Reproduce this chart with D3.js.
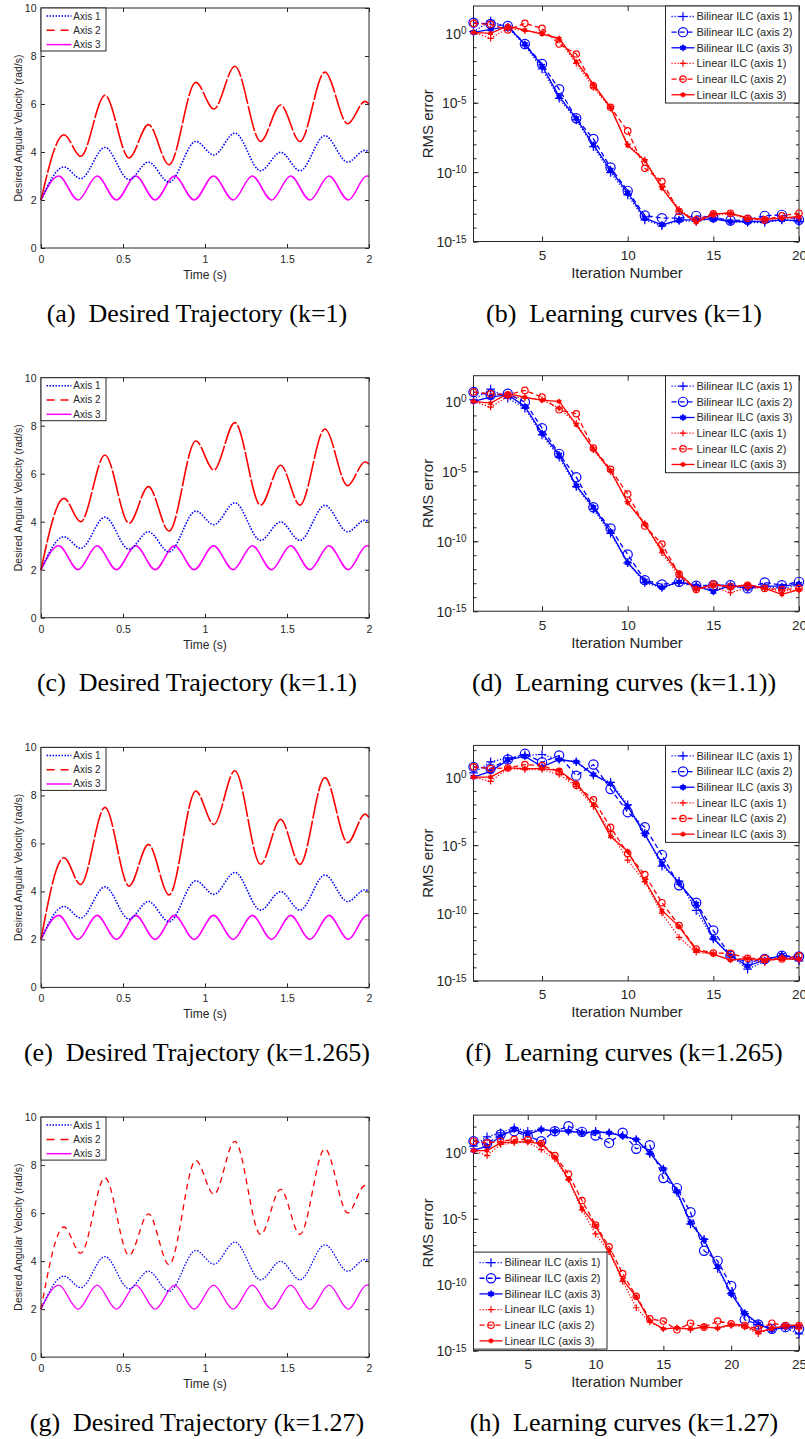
<!DOCTYPE html>
<html>
<head>
<meta charset="utf-8">
<script src="https://cdn.jsdelivr.net/npm/d3@7"></script>
<style>
  body { margin: 0; background: #fff; }
  svg { display: block; }
</style>
</head>
<body>
<script>
// ---------- trajectory data (extrema) ----------
// time of the turning points of axis 1 / axis 2
const extremaTime = [0, 0.14, 0.242, 0.39, 0.537, 0.655, 0.781, 0.944, 1.054, 1.182, 1.339, 1.461, 1.579, 1.731, 1.87, 1.976, 2.0]
const axis1Vel = [2, 3.375, 2.89, 4.19, 2.85, 3.58, 2.74, 4.44, 3.875, 4.79, 3.22, 3.99, 3.22, 4.68, 3.58, 4.07, 4.0]
const axis2VelK1 = [2, 4.72, 3.82, 6.36, 3.75, 5.14, 3.47, 6.9, 5.79, 7.57, 4.44, 5.96, 4.44, 7.33, 5.18, 6.11, 6.0]
const axis2VelK11 = [2, 4.97, 4.0, 6.78, 3.93, 5.46, 3.61, 7.36, 6.15, 8.13, 4.69, 6.35, 4.69, 7.86, 5.5, 6.5, 6.4]
const axis2VelK1265 = [2, 5.4, 4.29, 7.5, 4.22, 5.96, 3.85, 8.18, 6.79, 9.03, 5.13, 7.0, 5.13, 8.74, 6.03, 7.22, 7.08]
const axis2VelK127 = [2, 5.42, 4.33, 7.47, 4.24, 5.97, 3.85, 8.19, 6.78, 8.99, 5.11, 6.99, 5.11, 8.68, 6.01, 7.15, 7.06]
// axis 3 turning points
const axis3Time = [0, 0.108, 0.226, 0.342, 0.46, 0.578, 0.696, 0.814, 0.934, 1.052, 1.172, 1.288, 1.406, 1.522, 1.64, 1.756, 1.874, 1.986, 2.0]
const axis3Vel = [2, 3, 2, 3, 2, 3, 2, 3, 2, 3, 2, 3, 2, 3, 2, 3, 2, 3, 2.99]

const timeTicks = [0, 0.5, 1, 1.5, 2]
const velTicks = [0, 2, 4, 6, 8, 10]
const trajLegend = ['Axis 1', 'Axis 2', 'Axis 3']

// ---------- learning curves: log10(RMS error) per iteration ----------
const bil1K1 = [0.12, 0.89, 0.43, -0.84, -2.57, -4.68, -6.24, -8.16, -10.03, -11.64, -13.44, -13.87, -13.49, -13.56, -13.32, -13.56, -13.63, -13.63, -13.44, -13.56]
const bil2K1 = [0.77, 0.67, 0.53, -0.77, -2.21, -4.03, -6.12, -7.61, -9.67, -11.35, -13.13, -13.32, -13.32, -13.15, -13.25, -13.49, -13.44, -13.15, -13.08, -13.44]
const bil3K1 = [0.07, 0.29, 0.48, -0.79, -2.35, -4.56, -6.12, -8.04, -9.84, -11.47, -13.32, -13.8, -13.44, -13.44, -13.37, -13.56, -13.56, -13.56, -13.44, -13.49]
const lin1K1 = [0.07, -0.36, 0.36, 0.19, 0.05, -0.48, -2.16, -3.89, -5.4, -7.99, -9.12, -11.04, -12.67, -13.56, -13.08, -13.03, -13.37, -13.49, -13.32, -13.32]
const lin2K1 = [0.72, 0.65, 0.24, 0.72, 0.36, -0.77, -1.49, -3.79, -5.33, -7.03, -9.72, -10.68, -12.84, -13.44, -13.01, -12.96, -13.32, -13.44, -13.15, -12.96]
const lin3K1 = [0.07, 0, 0.53, 0.24, -0.05, -0.36, -2.04, -3.67, -5.33, -8.09, -9.17, -11.16, -12.77, -13.63, -13.01, -12.96, -13.32, -13.39, -13.32, -13.2]

const bil1K11 = [0.12, 0.88, 0.24, -0.48, -2.39, -3.99, -6.09, -7.71, -9.43, -11.54, -12.97, -13.3, -12.97, -13.21, -13.45, -13.21, -13.37, -13.26, -13.37, -13.14]
const bil2K11 = [0.67, 0.48, 0.55, -0.05, -1.91, -3.75, -5.42, -7.57, -9.08, -10.94, -12.78, -13.09, -12.9, -13.18, -13.14, -13.14, -13.37, -12.94, -13.14, -12.9]
const bil3K11 = [0, 0.31, 0.48, -0.36, -2.27, -3.82, -6.02, -7.57, -9.31, -11.54, -12.83, -13.3, -12.9, -13.18, -13.61, -13.14, -13.37, -13.21, -13.21, -13.06]
const lin1K11 = [0, -0.41, 0.36, 0.24, 0.12, -0.48, -1.55, -3.46, -5.02, -7.17, -8.72, -10.82, -12.54, -13.45, -13.26, -13.68, -13.3, -13.37, -13.54, -13.49]
const lin2K11 = [0.67, 0.55, 0.48, 0.79, 0.31, -0.6, -0.88, -3.34, -4.85, -6.62, -8.91, -10.2, -12.35, -13.45, -13.06, -13.26, -13.14, -13.37, -13.45, -13.37]
const lin3K11 = [0, -0.12, 0.55, 0.31, 0.07, 0, -1.67, -3.39, -4.94, -7.24, -8.77, -10.68, -12.3, -13.45, -13.09, -13.3, -13.09, -13.37, -13.8, -13.45]

const bil1K1265 = [0.32, 1.14, 1.43, 1.63, 1.68, 1.31, 1.14, 0.15, -0.37, -2.03, -4.13, -6.55, -7.64, -9.81, -11.91, -13.15, -14.13, -13.57, -13.2, -13.52]
const bil2K1265 = [0.77, 0.64, 1.31, 1.73, 1.11, 1.61, 0.12, 0.94, -0.86, -2.57, -3.68, -5.73, -7.96, -9.24, -11.29, -13.15, -13.64, -13.39, -13.15, -13.2]
const bil3K1265 = [0.02, 0.44, 1.26, 1.56, 0.77, 1.31, 1.14, 0.2, -0.47, -2.15, -4.2, -6.35, -7.78, -9.32, -11.86, -13.15, -13.89, -13.47, -13.1, -13.39]
const lin1K1265 = [0.02, -0.3, 0.64, 0.57, 0.57, 0.2, -0.67, -2.15, -4.0, -6.1, -7.71, -10.01, -11.79, -12.9, -13.02, -13.47, -13.39, -13.64, -13.27, -13.47]
const lin2K1265 = [0.77, 0.64, 0.69, 0.94, 0.86, 0.44, -0.59, -1.66, -3.68, -5.61, -7.17, -9.24, -10.92, -12.65, -12.95, -12.97, -13.34, -13.34, -13.39, -13.15]
const lin3K1265 = [0.02, 0.02, 0.69, 0.64, 0.64, 0.49, -0.42, -2.03, -4.37, -5.44, -7.59, -9.81, -11.0, -12.73, -13.02, -13.47, -13.34, -13.47, -13.39, -13.39]

const bil1K127 = [0.51, 1.22, 1.53, 1.91, 1.65, 1.78, 1.65, 1.65, 1.53, 1.65, 1.53, 1.32, 1.02, -0.05, -1.22, -3.0, -5.39, -6.56, -8.77, -10.68, -12.2, -13.02, -13.35, -13.27, -13.73]
const bil2K127 = [0.89, 0.71, 1.4, 1.65, 1.27, 0.89, 1.65, 2.03, 1.6, 1.32, 0.76, 1.53, 0.31, 0.58, -1.91, -2.67, -4.5, -7.42, -8.19, -10.09, -12.66, -13.02, -13.35, -13.22, -13.35]
const bil3K127 = [0.2, 0.51, 1.27, 1.78, 1.4, 1.78, 1.65, 1.65, 1.53, 1.58, 1.53, 1.27, 1.02, 0, -1.22, -2.92, -5.29, -6.61, -8.64, -10.68, -12.15, -12.97, -13.42, -13.22, -13.17]
const lin1K127 = [0.18, -0.2, 0.64, 0.76, 0.81, 0.25, -0.46, -2.03, -4.32, -6.15, -7.5, -9.74, -11.75, -12.84, -13.35, -13.27, -13.42, -13.17, -13.3, -13.09, -13.22, -13.73, -13.27, -13.15, -13.35]
const lin2K127 = [0.89, 0.76, 0.89, 1.02, 1.02, 0.71, -0.2, -1.6, -3.61, -5.47, -7.12, -9.15, -10.88, -12.59, -12.76, -13.42, -12.92, -13.22, -12.76, -12.97, -13.09, -13.35, -12.92, -13.09, -13.09]
const lin3K127 = [0.18, 0.18, 0.76, 0.84, 0.84, 0.69, -0.31, -1.98, -4.2, -5.52, -7.42, -9.61, -10.93, -12.76, -13.35, -13.27, -13.35, -13.22, -13.3, -13.02, -13.09, -13.6, -13.35, -13.09, -13.09]

const learnLegend = ['Bilinear ILC (axis 1)', 'Bilinear ILC (axis 2)', 'Bilinear ILC (axis 3)',
  'Linear ILC (axis 1)', 'Linear ILC (axis 2)', 'Linear ILC (axis 3)']
const iterTicks20 = [5, 10, 15, 20]
const iterTicks25 = [5, 10, 15, 20, 25]
const labelDecades = [-15, -10, -5, 0]

const captions = [
  ['(a)\u00a0 Desired Trajectory (k=1)', '(b)\u00a0 Learning curves (k=1)'],
  ['(c)\u00a0 Desired Trajectory (k=1.1)', '(d)\u00a0 Learning curves (k=1.1))'],
  ['(e)\u00a0 Desired Trajectory (k=1.265)', '(f)\u00a0 Learning curves (k=1.265)'],
  ['(g)\u00a0 Desired Trajectory (k=1.27)', '(h)\u00a0 Learning curves (k=1.27)']
]

// ---------- drawing ----------
const W = 805, H = 1439
const axisCol = '#262626'
const sans = '"Liberation Sans", Arial, Helvetica, sans-serif'
const serif = '"Liberation Serif", "Times New Roman", serif'
const BLUE = '#0000ff', RED = '#ff0000', MAG = '#ff00ff'

const svg = d3.select('body').append('svg').attr('width', W).attr('height', H)

const rowY = [0, 369.7, 739.4, 1109.1]

function styleAxis(g, size) {
  g.select('.domain').remove()
  g.selectAll('line').attr('stroke', axisCol)
  g.selectAll('text').attr('fill', axisCol).style('font-family', sans).style('font-size', size + 'px')
}

function drawTrajectory(top, axis2, caption, thinDash) {
  const x0 = 41, x1 = 369, h = 240
  const x = d3.scaleLinear().domain([0, 2]).range([x0, x1])
  const y = d3.scaleLinear().domain([0, 10]).range([top + h, top])

  svg.append('g').attr('transform', `translate(0,${top + h})`)
    .call(d3.axisBottom(x).tickValues(timeTicks).tickSizeInner(-4).tickSizeOuter(0).tickPadding(7.5).tickFormat(d => d))
    .call(g => styleAxis(g, 10.5))
  svg.append('g').attr('transform', `translate(0,${top})`)
    .call(d3.axisTop(x).tickValues(timeTicks).tickSizeInner(-4).tickSizeOuter(0).tickFormat(''))
    .call(g => styleAxis(g, 10))
  svg.append('g').attr('transform', `translate(${x0},0)`)
    .call(d3.axisLeft(y).tickValues(velTicks).tickSizeInner(-4).tickSizeOuter(0).tickPadding(4.5))
    .call(g => styleAxis(g, 10.5))
  svg.append('g').attr('transform', `translate(${x1},0)`)
    .call(d3.axisRight(y).tickValues(velTicks).tickSizeInner(-4).tickSizeOuter(0).tickFormat(''))
    .call(g => styleAxis(g, 10))

  const line = d3.line().x(d => x(d[0])).y(d => y(d[1])).curve(d3.curveMonotoneX)
  const lw = thinDash ? 1.3 : 1.6

  svg.append('path').datum(axis3Time.map((t, i) => [t, axis3Vel[i]]))
    .attr('d', line).attr('fill', 'none').attr('stroke', MAG).attr('stroke-width', lw)
  svg.append('path').datum(extremaTime.map((t, i) => [t, axis1Vel[i]]))
    .attr('d', line).attr('fill', 'none').attr('stroke', BLUE).attr('stroke-width', lw)
    .attr('stroke-dasharray', '1.5,1.5')
  svg.append('path').datum(extremaTime.map((t, i) => [t, axis2[i]]))
    .attr('d', line).attr('fill', 'none').attr('stroke', RED).attr('stroke-width', lw)
    .attr('stroke-dasharray', thinDash ? '6,4.5' : '26,2')

  svg.append('rect').attr('x', x0).attr('y', top).attr('width', x1 - x0).attr('height', h)
    .attr('fill', 'none').attr('stroke', axisCol).attr('stroke-width', 1)

  // legend
  const lg = svg.append('g').attr('transform', `translate(${x0},${top})`)
  lg.append('rect').attr('width', 65).attr('height', 43).attr('fill', '#fff')
    .attr('stroke', axisCol).attr('stroke-width', 1)
  const legStyles = [[BLUE, '1.5,1.5'], [RED, '8,6'], [MAG, null]]
  trajLegend.forEach((name, i) => {
    const ly = 8 + i * 14.3
    lg.append('line').attr('x1', 5.5).attr('x2', 30.5).attr('y1', ly).attr('y2', ly)
      .attr('stroke', legStyles[i][0]).attr('stroke-width', 1.5)
      .attr('stroke-dasharray', legStyles[i][1])
    lg.append('text').attr('x', 32.3).attr('y', ly).attr('dy', '0.35em')
      .style('font-family', sans).style('font-size', '10px').attr('fill', axisCol).text(name)
  })

  svg.append('text').attr('x', (x0 + x1) / 2).attr('y', top + 271)
    .attr('text-anchor', 'middle').style('font-family', sans).style('font-size', '12px')
    .attr('fill', axisCol).text('Time (s)')
  svg.append('text').attr('transform', `translate(22,${top + h / 2}) rotate(-90)`)
    .attr('text-anchor', 'middle').style('font-family', sans).style('font-size', '10.5px')
    .attr('fill', axisCol).text('Desired Angular Velocity (rad/s)')

  svg.append('text').attr('x', 197).attr('y', top + 313.5)
    .attr('text-anchor', 'middle').style('font-family', serif).style('font-size', '26px')
    .attr('fill', '#000').text(caption)
}

const seriesStyles = [
  { color: BLUE, dash: '1.2,1.8', marker: 'plus', size: 4.3 },
  { color: BLUE, dash: '5,3', marker: 'circle', size: 4.6 },
  { color: BLUE, dash: null, marker: 'star', size: 3.4 },
  { color: RED, dash: '1.2,1.8', marker: 'plus', size: 3.2 },
  { color: RED, dash: '5,3', marker: 'circle', size: 3.2 },
  { color: RED, dash: null, marker: 'star', size: 2.6 }
]

function drawMarker(g, st, cx, cy) {
  if (st.marker === 'circle') {
    g.append('circle').attr('cx', cx).attr('cy', cy).attr('r', st.size)
      .attr('fill', 'none').attr('stroke', st.color).attr('stroke-width', 1.2)
  } else if (st.marker === 'plus') {
    const r = st.size
    g.append('path').attr('d', `M${cx - r},${cy}H${cx + r}M${cx},${cy - r}V${cy + r}`)
      .attr('stroke', st.color).attr('stroke-width', 1.2)
  } else {
    g.append('circle').attr('cx', cx).attr('cy', cy).attr('r', st.size * 0.75).attr('fill', st.color)
    g.append('path').attr('transform', `translate(${cx},${cy})`)
      .attr('d', d3.symbol().type(d3.symbolAsterisk).size(st.size * st.size * 3)())
      .attr('stroke', st.color).attr('stroke-width', 1.2).attr('fill', 'none')
  }
}

function drawLearning(top, series, nIter, topExp, legendBottom, caption) {
  const x0 = 473.5, x1 = 799, h = 235.5
  const x = d3.scaleLinear().domain([1, nIter]).range([x0, x1])
  const y = d3.scaleLog().domain([1e-15, Math.pow(10, topExp)]).range([top + h, top])
  const xTicks = nIter > 20 ? iterTicks25 : iterTicks20
  const decades = d3.range(-15, Math.floor(topExp) + 1).map(e => Math.pow(10, e))
  const labelled = labelDecades.map(e => Math.pow(10, e))

  svg.append('g').attr('transform', `translate(0,${top + h})`)
    .call(d3.axisBottom(x).tickValues(xTicks).tickSizeInner(-5).tickSizeOuter(0).tickPadding(9).tickFormat(d => d))
    .call(g => styleAxis(g, 13.5))
  svg.append('g').attr('transform', `translate(0,${top})`)
    .call(d3.axisTop(x).tickValues(xTicks).tickSizeInner(-5).tickSizeOuter(0).tickFormat(''))
    .call(g => styleAxis(g, 10))
  svg.append('g').attr('transform', `translate(${x0},0)`)
    .call(d3.axisLeft(y).tickValues(decades).tickSizeInner(-3).tickSizeOuter(0).tickFormat(''))
    .call(g => styleAxis(g, 10))
  svg.append('g').attr('transform', `translate(${x1},0)`)
    .call(d3.axisRight(y).tickValues(decades).tickSizeInner(-3).tickSizeOuter(0).tickFormat(''))
    .call(g => styleAxis(g, 10))
  const yl = svg.append('g').attr('transform', `translate(${x0},0)`)
    .call(d3.axisLeft(y).tickValues(labelled).tickSizeInner(-5).tickSizeOuter(0).tickPadding(7).tickFormat(''))
    .call(g => styleAxis(g, 14))
  yl.selectAll('.tick text').each(function (d) {
    const t = d3.select(this).attr('dy', null)
    t.append('tspan').attr('dy', '0.36em').text('10')
    t.append('tspan').attr('dy', '-0.45em').style('font-size', '10px').text(Math.round(Math.log10(d)))
  })
  svg.append('g').attr('transform', `translate(${x1},0)`)
    .call(d3.axisRight(y).tickValues(labelled).tickSizeInner(-5).tickSizeOuter(0).tickFormat(''))
    .call(g => styleAxis(g, 10))

  svg.append('rect').attr('x', x0).attr('y', top).attr('width', x1 - x0).attr('height', h)
    .attr('fill', 'none').attr('stroke', axisCol).attr('stroke-width', 1)

  const line = d3.line().x(d => x(d[0])).y(d => y(d[1]))
  series.forEach((vals, k) => {
    const st = seriesStyles[k]
    const pts = vals.map((v, i) => [i + 1, Math.pow(10, v)])
    svg.append('path').datum(pts).attr('d', line).attr('fill', 'none')
      .attr('stroke', st.color).attr('stroke-width', 1.3).attr('stroke-dasharray', st.dash)
    const mg = svg.append('g')
    pts.forEach(p => drawMarker(mg, st, x(p[0]), y(p[1])))
  })

  // legend
  const lw = 133.5, lh = 97
  const lx = legendBottom ? x0 : x1 - lw
  const ly = legendBottom ? top + h - lh - 1.5 : top
  const lg = svg.append('g').attr('transform', `translate(${lx},${ly})`)
  lg.append('rect').attr('width', lw).attr('height', lh).attr('fill', '#fff')
    .attr('stroke', axisCol).attr('stroke-width', 1)
  learnLegend.forEach((name, i) => {
    const st = seriesStyles[i]
    const cy = 10.5 + i * 15.65
    lg.append('line').attr('x1', 6).attr('x2', 29).attr('y1', cy).attr('y2', cy)
      .attr('stroke', st.color).attr('stroke-width', 1.3).attr('stroke-dasharray', st.dash)
    drawMarker(lg, st, 17.5, cy)
    lg.append('text').attr('x', 31).attr('y', cy).attr('dy', '0.35em')
      .style('font-family', sans).style('font-size', '11px').attr('fill', axisCol).text(name)
  })

  svg.append('text').attr('x', 627).attr('y', top + 272)
    .attr('text-anchor', 'middle').style('font-family', sans).style('font-size', '15px')
    .attr('fill', axisCol).text('Iteration Number')
  svg.append('text').attr('transform', `translate(433,${top + h / 2}) rotate(-90)`)
    .attr('text-anchor', 'middle').style('font-family', sans).style('font-size', '15px')
    .attr('fill', axisCol).text('RMS error')

  svg.append('text').attr('x', 624).attr('y', top + 315.5)
    .attr('text-anchor', 'middle').style('font-family', serif).style('font-size', '26px')
    .attr('fill', '#000').text(caption)
}

const axis2Sets = [axis2VelK1, axis2VelK11, axis2VelK1265, axis2VelK127]
const learnSets = [
  [bil1K1, bil2K1, bil3K1, lin1K1, lin2K1, lin3K1],
  [bil1K11, bil2K11, bil3K11, lin1K11, lin2K11, lin3K11],
  [bil1K1265, bil2K1265, bil3K1265, lin1K1265, lin2K1265, lin3K1265],
  [bil1K127, bil2K127, bil3K127, lin1K127, lin2K127, lin3K127]
]
const topExps = [1.97, 1.84, 2.35, 2.87]

rowY.forEach((ry, r) => {
  drawTrajectory(ry + 8, axis2Sets[r], captions[r][0], r === 3)
  drawLearning(ry + 6, learnSets[r], learnSets[r][0].length, topExps[r], r === 3, captions[r][1])
})
</script>
</body>
</html>
